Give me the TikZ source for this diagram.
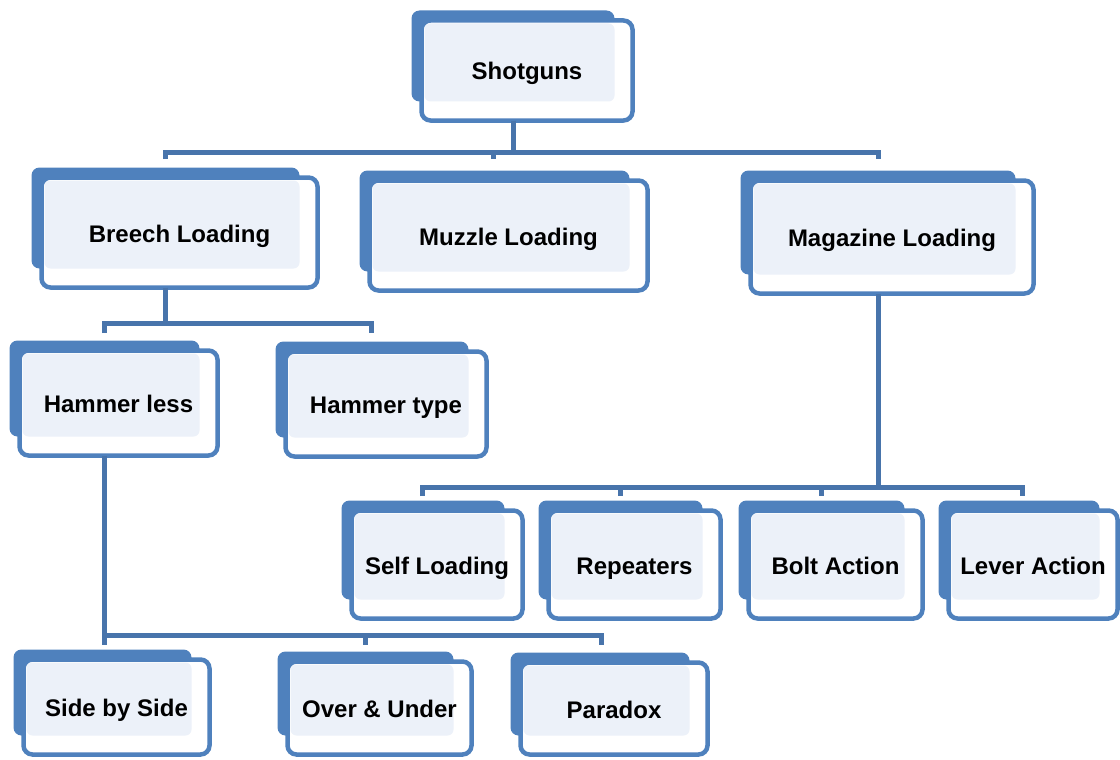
\documentclass[tikz,border=0pt]{standalone}
\usepackage{fontspec}
\setmainfont{Liberation Sans}
\usepackage{tikz}
\usetikzlibrary{calc}
\definecolor{boxblue}{HTML}{4F81BD}
\definecolor{linkblue}{HTML}{4874AB}
\definecolor{paleblue}{HTML}{ECF1F9}
\pgfdeclarelayer{bg}
\pgfdeclarelayer{mid}
\pgfsetlayers{bg,mid,main}
\tikzset{
  tiertext/.style={inner sep=0pt, outer sep=0pt, text height=19pt, text depth=0pt, font=\fontsize{24}{28}\selectfont\bfseries},
  frontbox/.style={draw=boxblue, line width=4.5pt, fill=white, rounded corners=9pt},
  backbox/.style={fill=boxblue, rounded corners=8pt},
  palebox/.style={fill=paleblue, rounded corners=6pt},
  link/.style={draw=linkblue, line width=5pt}
}
\newcommand{\tierbox}[6]{%
  \node[tiertext, minimum width=#4pt, minimum height=#5pt] (#1) at (#2,#3) {#6};
  \begin{pgfonlayer}{bg}
    \fill[backbox] ([shift={(-10,-10)}]#1.north west) rectangle ([shift={(-18,-19)}]#1.south east);
  \end{pgfonlayer}
  \begin{pgfonlayer}{mid}
    \draw[frontbox] (#1.north west) rectangle (#1.south east);
    \fill[palebox] ([shift={(3,3)}]#1.north west) rectangle ([shift={(-18,-19)}]#1.south east);
  \end{pgfonlayer}
}

\begin{document}
\begin{tikzpicture}[x=1pt, y=-1pt]
  \useasboundingbox (0,0) rectangle (1120,760);

  \tierbox{shot}{527}{70.5}{211}{100}{Shotguns}
  \tierbox{breech}{179.5}{232.5}{276}{110}{Breech Loading}
  \tierbox{muzzle}{508.5}{235.5}{278}{110}{Muzzle Loading}
  \tierbox{mag}{892}{237}{283}{113}{Magazine Loading}
  \tierbox{hless}{118.5}{403}{198}{105}{Hammer less}
  \tierbox{htype}{386}{404}{201}{105}{Hammer type}
  \tierbox{self}{437}{564.5}{171}{108}{Self Loading}
  \tierbox{rep}{634.5}{564.5}{172}{108}{Repeaters}
  \tierbox{bolt}{835.5}{564.5}{174}{108}{Bolt Action}
  \tierbox{lever}{1033}{564.5}{169}{108}{Lever Action}
  \tierbox{sbs}{116.5}{707}{186}{95}{Side by Side}
  \tierbox{ou}{379.5}{708}{184}{93}{Over \& Under}
  \tierbox{para}{614}{708.5}{187}{92}{Paradox}

  \coordinate (j1) at (513,152);
  \coordinate (t1) at (165,159);
  \coordinate (t2) at (493,159);
  \coordinate (t3) at (878,159);
  \draw[link] (shot.south -| j1) -- (j1);
  \draw[link] (t1) -- (t1 |- j1) -- (t3 |- j1) -- (t3);
  \draw[link] (t2 |- j1) -- (t2);

  \coordinate (j2) at (165,323);
  \coordinate (u1) at (104,333);
  \coordinate (u2) at (371,333);
  \draw[link] (breech.south -| j2) -- (j2);
  \draw[link] (u1) -- (u1 |- j2) -- (u2 |- j2) -- (u2);

  \coordinate (j3) at (878,487);
  \coordinate (v1) at (422,496);
  \coordinate (v2) at (620,496);
  \coordinate (v3) at (821,496);
  \coordinate (v4) at (1022,496);
  \draw[link] (mag.south -| j3) -- (j3);
  \draw[link] (v1) -- (v1 |- j3) -- (v4 |- j3) -- (v4);
  \draw[link] (v2 |- j3) -- (v2);
  \draw[link] (v3 |- j3) -- (v3);

  \coordinate (j4) at (104,635);
  \coordinate (w1) at (104,645);
  \coordinate (w2) at (365,645);
  \coordinate (w3) at (601,645);
  \draw[link] (hless.south -| j4) -- (w1);
  \draw[link] (w1 |- j4) -- (w3 |- j4) -- (w3);
  \draw[link] (w2 |- j4) -- (w2);
\end{tikzpicture}
\end{document}
